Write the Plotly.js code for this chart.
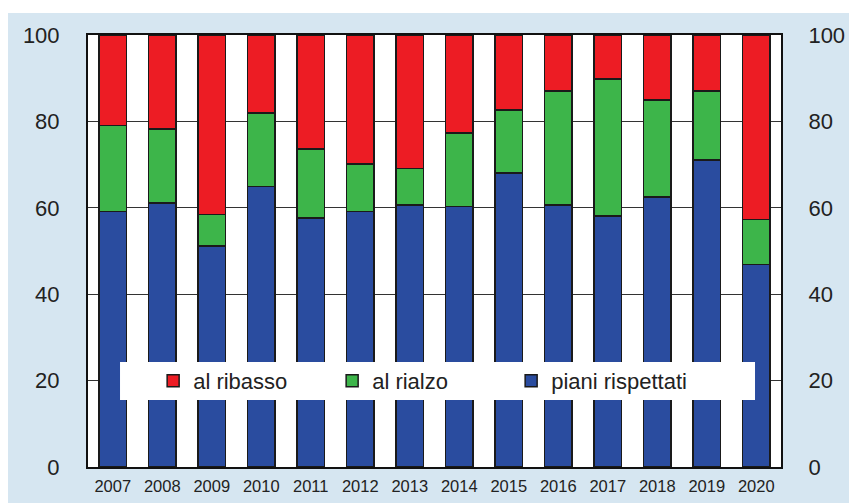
<!DOCTYPE html>
<html>
<head>
<meta charset="utf-8">
<script src="https://cdn.plot.ly/plotly-3.0.1.min.js"></script>
<style>
html,body{margin:0;padding:0;background:#ffffff;width:849px;height:503px;overflow:hidden;}
#chart{position:absolute;left:8px;top:13px;width:841px;height:490px;}
</style>
</head>
<body>
<div id="chart"></div>
<script>
const years = ['2007','2008','2009','2010','2011','2012','2013','2014','2015','2016','2017','2018','2019','2020'];
const pianiRispettati = [59.2, 61.1, 51.2, 64.9, 57.6, 59.1, 60.6, 60.3, 68.1, 60.6, 58.1, 62.5, 71.1, 46.9];
const alRialzo = [19.8, 17.1, 7.2, 17.1, 16.0, 11.0, 8.5, 17.0, 14.5, 26.4, 31.7, 22.5, 15.9, 10.4];
const alRibasso = [21.0, 21.8, 41.6, 18.0, 26.4, 29.9, 30.9, 22.7, 17.4, 13.0, 10.2, 15.0, 13.0, 42.7];
const yTicks = [0, 20, 40, 60, 80, 100];

const lineStyle = {color: '#1a1a1a', width: 1.5};
const traces = [
  {type: 'bar', name: 'al ribasso', x: years, y: alRibasso, marker: {color: '#ed1c24', line: lineStyle}, legendrank: 1},
  {type: 'bar', name: 'al rialzo', x: years, y: alRialzo, marker: {color: '#3db54a', line: lineStyle}, legendrank: 2},
  {type: 'bar', name: 'piani rispettati', x: years, y: pianiRispettati, marker: {color: '#2a4c9f', line: lineStyle}, legendrank: 3},
  {type: 'scatter', mode: 'none', x: years, y: pianiRispettati, yaxis: 'y2', showlegend: false, hoverinfo: 'skip'}
];
// stacking order: blue bottom, green, red top
const data = [traces[2], traces[1], traces[0], traces[3]];

const axisFont = {family: 'Liberation Sans, Arial, sans-serif', size: 22, color: '#222222'};
const layout = {
  width: 841, height: 490,
  margin: {l: 80, r: 68, t: 22, b: 36},
  paper_bgcolor: '#d6e6f1',
  plot_bgcolor: '#ffffff',
  barmode: 'stack',
  bargap: 0.45,
  showlegend: true,
  legend: {
    orientation: 'h', x: 0.094, xanchor: 'left', y: 0.199, yanchor: 'middle',
    bgcolor: 'rgba(0,0,0,0)', traceorder: 'normal', entrywidth: 134, entrywidthmode: 'pixels',
    font: {family: 'Liberation Sans, Arial, sans-serif', size: 22, color: '#222222'}
  },
  xaxis: {
    type: 'category', showline: true, mirror: true, linecolor: '#111111', linewidth: 2,
    ticks: 'outside', ticklen: 3, tickcolor: 'rgba(0,0,0,0)',
    tickfont: {family: 'Liberation Sans, Arial, sans-serif', size: 16.5, color: '#222222'},
    showgrid: false, fixedrange: true
  },
  yaxis: {
    range: [0, 100], tickvals: yTicks, showline: true, mirror: true, linecolor: '#111111', linewidth: 2,
    showgrid: true, gridcolor: '#333333', gridwidth: 1, zeroline: false,
    ticks: 'outside', ticklen: 22, tickcolor: 'rgba(0,0,0,0)', tickfont: axisFont
  },
  yaxis2: {
    overlaying: 'y', side: 'right', range: [0, 100], tickvals: yTicks, showgrid: false, zeroline: false,
    showline: false, ticks: 'outside', ticklen: 22, tickcolor: 'rgba(0,0,0,0)', tickfont: axisFont
  },
  shapes: [{
    type: 'rect', layer: 'above', xref: 'paper', yref: 'y',
    x0: 0.0462, x1: 0.9625, y0: 15.5, y1: 24.3,
    fillcolor: '#ffffff', line: {width: 0}
  }]
};
Plotly.newPlot('chart', data, layout, {staticPlot: true, displayModeBar: false});
</script>
</body>
</html>
